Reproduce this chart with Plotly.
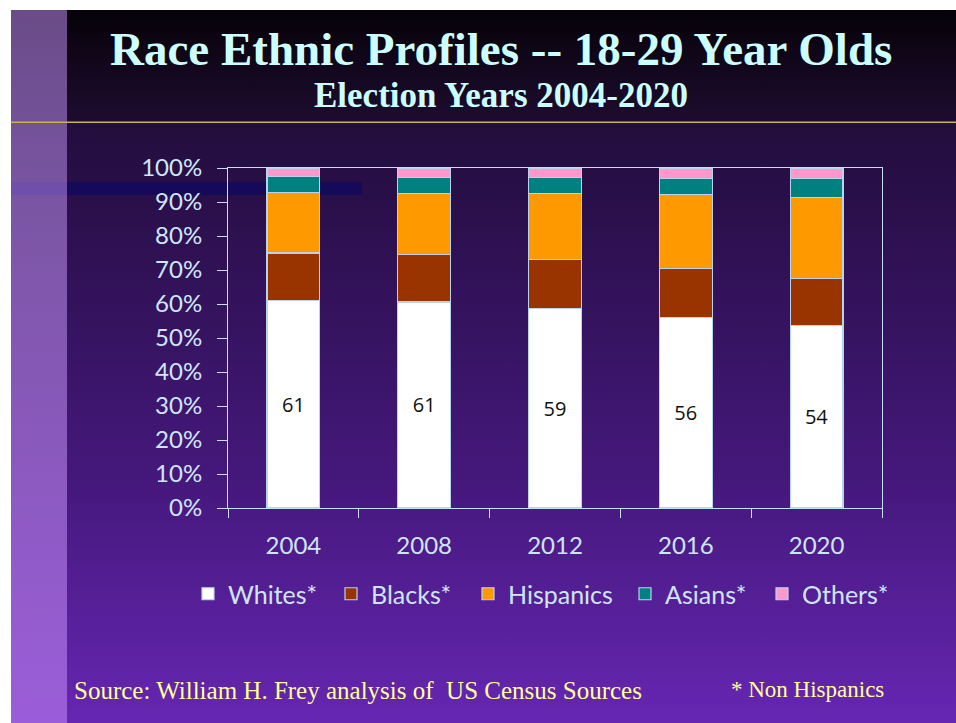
import base64
import plotly.graph_objects as go

# Share of 18-29 year olds by race/ethnicity (percent), election years 2004-2020
years = ["2004", "2008", "2012", "2016", "2020"]
whites = [61.1, 60.6, 58.6, 56.0, 53.6]
blacks = [13.9, 14.0, 14.4, 14.5, 13.8]
hispanics = [17.9, 18.0, 19.6, 21.6, 24.0]
asians = [4.5, 4.5, 4.5, 4.7, 5.4]
others = [2.6, 2.9, 2.9, 3.2, 3.2]

series_names = ["Whites*", "Blacks*", "Hispanics", "Asians*", "Others*"]
series_values = [whites, blacks, hispanics, asians, others]
series_colors = ["#ffffff", "#993300", "#ff9900", "#008080", "#ff99cc"]
# left edge (px) of each legend entry along the legend row
legend_x_px = [188, 331, 468, 625, 762]

W, H = 956, 723

# Slide background: dark title band, purple gradient body, side strip, rule line
svg = f"""<svg xmlns='http://www.w3.org/2000/svg' width='{W}' height='{H}' viewBox='0 0 {W} {H}'>
<defs>
<linearGradient id='top' x1='0' y1='0' x2='0' y2='1'>
<stop offset='0' stop-color='#060208'/><stop offset='1' stop-color='#1e0c30'/></linearGradient>
<linearGradient id='body' x1='0' y1='0' x2='0' y2='1'>
<stop offset='0' stop-color='#220d3c'/><stop offset='0.6' stop-color='#45187c'/><stop offset='1' stop-color='#6626b2'/></linearGradient>
<linearGradient id='strip' x1='0' y1='0' x2='0' y2='1'>
<stop offset='0' stop-color='#6a4c88'/><stop offset='0.3' stop-color='#7c56a6'/><stop offset='1' stop-color='#9b5dd9'/></linearGradient>
</defs>
<rect x='0' y='0' width='{W}' height='{H}' fill='#ffffff'/>
<rect x='11' y='10' width='{W-11}' height='112' fill='url(#top)'/>
<rect x='11' y='122' width='{W-11}' height='{H-122}' fill='url(#body)'/>
<rect x='11' y='10' width='56' height='{H-10}' fill='url(#strip)'/>
<rect x='11' y='182' width='56' height='13' fill='#6e4faa'/>
<rect x='67' y='182' width='295' height='13' fill='#150a5a'/>
<rect x='11' y='121.5' width='{W-11}' height='1.5' fill='#c8b448'/>
</svg>"""
bg_src = "data:image/svg+xml;base64," + base64.b64encode(svg.encode()).decode()

legend_font = dict(family="Lato", size=25, color="#cfe6fa")

fig = go.Figure()
legends = {}
for i, (name, vals, col) in enumerate(zip(series_names, series_values, series_colors)):
    lid = "legend" if i == 0 else f"legend{i + 1}"
    bar = go.Bar(
        x=years, y=vals, name=name, legend=lid,
        marker=dict(color=col, line=dict(color="#b8d4ec", width=1.2)),
        hoverinfo="skip",
    )
    if name == "Whites*":
        bar.update(
            texttemplate="%{y:.0f}", textposition="inside",
            insidetextanchor="middle", textangle=0,
            textfont=dict(family="Open Sans", size=20, color="#111111"),
        )
    fig.add_trace(bar)
    legends[lid] = dict(
        orientation="h", x=legend_x_px[i] / W, y=(H - 594) / H,
        xanchor="left", yanchor="middle", font=legend_font,
        bgcolor="rgba(0,0,0,0)", itemclick=False, itemdoubleclick=False,
    )

axis_col = "#c2e0f6"
tick_font = dict(family="Lato", size=24, color="#cfe6fa")

fig.update_layout(
    width=W, height=H, autosize=False,
    margin=dict(l=0, r=0, t=0, b=0, pad=0),
    paper_bgcolor="#ffffff", plot_bgcolor="rgba(0,0,0,0)",
    barmode="stack", bargap=0.595,
    uniformtext=dict(mode="show", minsize=10),
    images=[dict(source=bg_src, xref="paper", yref="paper", x=0, y=1,
                 sizex=1, sizey=1, xanchor="left", yanchor="top",
                 sizing="stretch", layer="below")],
    xaxis=dict(
        domain=[228 / W, 882 / W], showline=True, mirror=True, automargin=False,
        linecolor=axis_col, linewidth=1, ticks="outside", ticklen=9,
        tickcolor=axis_col, tickson="boundaries", tickfont=tick_font,
        ticklabelstandoff=16, showgrid=False, zeroline=False, fixedrange=True,
    ),
    yaxis=dict(
        domain=[(H - 508) / H, (H - 168) / H], range=[0, 100], automargin=False,
        dtick=10, ticksuffix="%", showline=True, mirror=True,
        linecolor=axis_col, linewidth=1, ticks="outside", ticklen=10,
        tickcolor=axis_col, tickfont=tick_font, ticklabelstandoff=10,
        showgrid=False, zeroline=False, fixedrange=True,
    ),
    showlegend=True,
    **legends,
)

annotations = [
    dict(text="<b>Race Ethnic Profiles -- 18-29 Year Olds</b>", x=501 / W,
         y=(H - 49) / H, font=dict(family="Liberation Serif", size=47, color="#ccffff")),
    dict(text="<b>Election Years 2004-2020</b>", x=501 / W, y=(H - 96) / H,
         font=dict(family="Liberation Serif", size=35, color="#ccffff")),
    dict(text="Source: William H. Frey analysis of  US Census Sources", x=72 / W,
         y=(H - 690) / H, xanchor="left",
         font=dict(family="Liberation Serif", size=25, color="#ffff99")),
    dict(text="* Non Hispanics", x=886 / W, y=(H - 689) / H, xanchor="right",
         font=dict(family="Liberation Serif", size=23, color="#ffff99")),
]
for a in annotations:
    a.update(xref="paper", yref="paper", showarrow=False, yanchor="middle")
    a.setdefault("xanchor", "center")
fig.update_layout(annotations=annotations)

fig.write_html("out.html", config={"displayModeBar": False})
